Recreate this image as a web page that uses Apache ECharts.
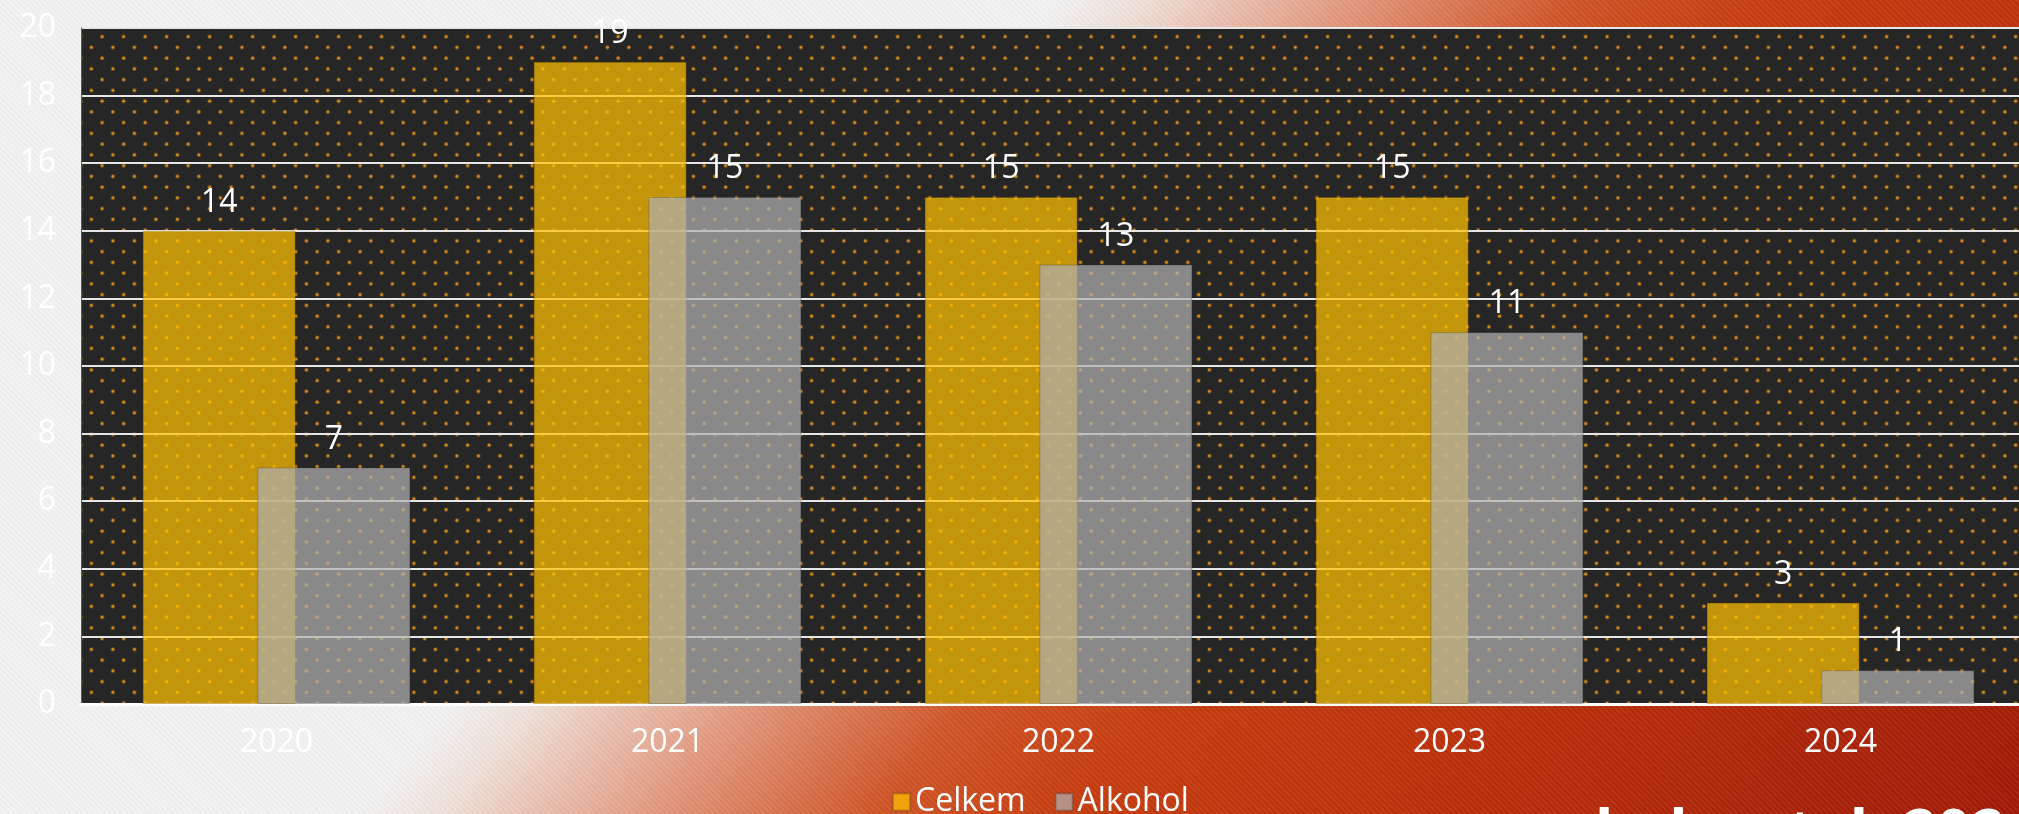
<!DOCTYPE html>
<html>
<head>
<meta charset="utf-8">
<script src="https://cdn.jsdelivr.net/npm/echarts@6/dist/echarts.min.js"></script>
<style>
    html, body {
        margin: 0;
        padding: 0;
        width: 2019px;
        height: 814px;
        overflow: hidden;
    }
    body {
        background:
            repeating-linear-gradient(45deg, rgba(255,255,255,0.05) 0px, rgba(255,255,255,0.05) 2px, rgba(0,0,0,0.02) 2px, rgba(0,0,0,0.02) 4px),
            linear-gradient(130.7deg, #f2f2f2 0%, #f2f2f2 39%, #efe0d8 42%, #e29a80 49.5%, #cf5426 58%, #c63c0e 65%, #bb2f0a 78%, #a01a06 100%);
    }
    /* a rajzterület kilóg jobbra, ezért szélesebb a tároló */
    #main {
        width: 2040px;
        height: 814px;
    }
</style>
</head>
<body>
<div id="main"></div>
<script>
    // adatok
    var years = ['2020', '2021', '2022', '2023', '2024'];
    var celkem = [14, 19, 15, 15, 3];
    var alkohol = [7, 15, 13, 11, 1];
    var yTicks = [0, 20, 2]; // min, max, interval
    var footText = 'balesetek 2024';

    // pontozott háttér a rajzterülethez
    function dotPattern() {
        var c = document.createElement('canvas');
        c.width = 43;
        c.height = 43;
        var ctx = c.getContext('2d');
        ctx.fillStyle = '#262626';
        ctx.fillRect(0, 0, 43, 43);
        var rows = [4.45, 15.2, 25.95, 36.7];
        for (var r = 0; r < rows.length; r++) {
            var xs = r % 2 === 0 ? [5.4, 26.9] : [16.15, 37.65];
            for (var k = 0; k < xs.length; k++) {
                ctx.beginPath();
                ctx.fillStyle = 'rgba(190,120,30,0.35)';
                ctx.arc(xs[k], rows[r], 2.4, 0, Math.PI * 2);
                ctx.fill();
                ctx.beginPath();
                ctx.fillStyle = '#d8891c';
                ctx.arc(xs[k], rows[r], 1.4, 0, Math.PI * 2);
                ctx.fill();
            }
        }
        return c;
    }

    var font = 'Open Sans';
    var myChart = echarts.init(document.getElementById('main'));
    var option = {
        backgroundColor: 'transparent',
        animation: false,
        textStyle: {fontFamily: font},
        grid: {
            show: true,
            left: 81,
            top: 28,
            right: 4,
            bottom: 110,
            borderWidth: 0,
            backgroundColor: {image: dotPattern(), repeat: 'repeat'}
        },
        legend: {
            left: 887,
            top: 781,
            itemWidth: 17,
            itemHeight: 17,
            itemGap: 29,
            icon: 'rect',
            textStyle: {color: '#ffffff', fontSize: 32, fontFamily: font}
        },
        xAxis: {
            type: 'category',
            data: years,
            axisTick: {show: false},
            axisLine: {show: true, lineStyle: {color: '#ffffff', width: 3}},
            axisLabel: {color: '#ffffff', fontSize: 32, margin: 23, fontFamily: font}
        },
        yAxis: {
            type: 'value',
            min: yTicks[0],
            max: yTicks[1],
            interval: yTicks[2],
            axisLine: {show: true, lineStyle: {color: '#595959', width: 1}},
            axisTick: {show: false},
            splitLine: {lineStyle: {color: '#e6e6e6', width: 2}},
            axisLabel: {color: '#ffffff', fontSize: 32, margin: 25, fontFamily: font}
        },
        series: [
            {
                name: 'Celkem',
                type: 'bar',
                data: celkem,
                barWidth: 153,
                barGap: '-25%',
                itemStyle: {color: 'rgba(255,192,0,0.72)', borderColor: 'rgba(90,60,0,0.3)', borderWidth: 1},
                label: {show: true, position: 'top', distance: 12, color: '#ffffff', fontSize: 32, fontFamily: font}
            },
            {
                name: 'Alkohol',
                type: 'bar',
                data: alkohol,
                barWidth: 153,
                barGap: '-25%',
                itemStyle: {color: 'rgba(176,176,176,0.72)', borderColor: 'rgba(60,60,60,0.3)', borderWidth: 1},
                label: {show: true, position: 'top', distance: 12, color: '#ffffff', fontSize: 32, fontFamily: font}
            }
        ],
        graphic: [
            {
                type: 'text',
                left: 1595,
                top: 806,
                silent: true,
                style: {text: footText, fill: '#ffffff', fontSize: 60, fontWeight: 'bold', fontFamily: font}
            }
        ]
    };
    myChart.setOption(option);
</script>
</body>
</html>
